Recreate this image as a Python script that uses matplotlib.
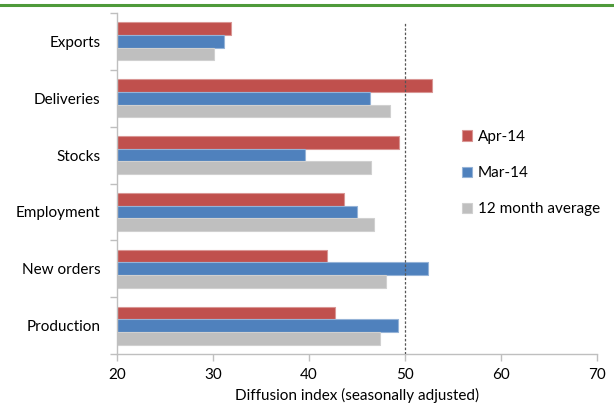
import matplotlib
matplotlib.use("Agg")
import matplotlib.pyplot as plt
import numpy as np

categories = ["Exports", "Deliveries", "Stocks", "Employment", "New orders", "Production"]
apr14 = [31.9, 52.8, 49.4, 43.6, 41.9, 42.7]
mar14 = [31.1, 46.3, 39.6, 45.0, 52.4, 49.3]
avg12 = [30.1, 48.4, 46.4, 46.8, 48.0, 47.4]
series_labels = ["Apr-14", "Mar-14", "12 month average"]
xticks = [20, 30, 40, 50, 60, 70]

plt.rcParams['font.family'] = ['Lato', 'DejaVu Sans']

W, H = 614, 403
fig = plt.figure(figsize=(W / 100, H / 100), dpi=100)
ax = fig.add_axes([117 / W, (H - 354) / H, (597.3 - 117) / W, (354 - 13) / H])

n = len(categories)
y = np.arange(n)[::-1].astype(float)  # Exports at top
bh = 0.223
colors = ["#C0504D", "#4F81BD", "#BFBFBF"]
edges = ["#D99694", "#95B3D7", "#D0D0D0"]
handles = []
for i, (vals, c, e, lab) in enumerate(zip([apr14, mar14, avg12], colors, edges, series_labels)):
    b = ax.barh(y + (1 - i) * bh, np.array(vals) - 20, left=20, height=bh,
                color=c, edgecolor=e, linewidth=0.8, label=lab)
    handles.append(b)

fs = 11
ax.set_xlim(20, 70)
ax.set_ylim(-0.5, n - 0.5)
ax.set_xticks(xticks)
ax.set_xticklabels([str(t) for t in xticks], fontsize=fs, color="#000000")
ax.set_yticks(y)
ax.set_yticklabels(categories, fontsize=fs, color="#000000")
ax.tick_params(axis='y', length=0, pad=12)
ax.set_yticks(np.arange(n + 1) - 0.5, minor=True)
ax.tick_params(axis='y', which='minor', length=5, color="#BFBFBF", width=1)
ax.tick_params(axis='x', length=5, color="#BFBFBF", width=1, pad=5)
for s in ["top", "right"]:
    ax.spines[s].set_visible(False)
for s in ["left", "bottom"]:
    ax.spines[s].set_color("#BFBFBF")
    ax.spines[s].set_linewidth(1)

ax.axvline(50, ymin=0, ymax=(354 - 23) / (354 - 13), color="#555555",
           linestyle=(0, (2, 1.5)), linewidth=0.9, zorder=3)

ax.set_xlabel("Diffusion index (seasonally adjusted)", fontsize=fs, labelpad=4)

leg = ax.legend(handles=handles, loc="upper left", bbox_to_anchor=(0.705, 0.675),
                frameon=False, fontsize=fs, handlelength=0.65, handleheight=0.65,
                handletextpad=0.4, labelspacing=1.45, borderaxespad=0)

fig.add_artist(plt.Line2D([0, 1], [(H - 5) / H, (H - 5) / H], color="#4E9A3A",
                          linewidth=2.2, transform=fig.transFigure))

fig.savefig("out.png", dpi=100)
